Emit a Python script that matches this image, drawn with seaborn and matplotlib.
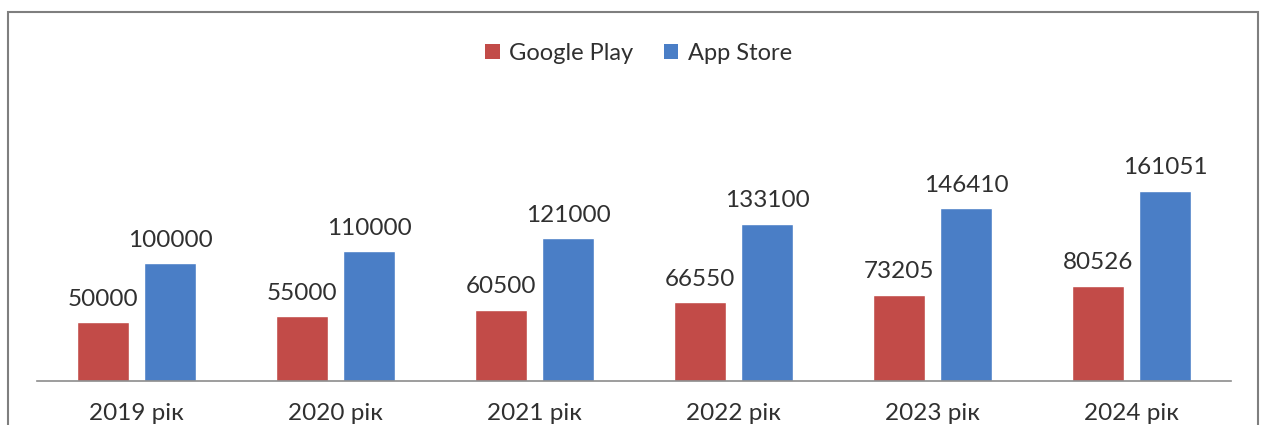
import matplotlib
matplotlib.use("Agg")
import matplotlib.pyplot as plt
import seaborn as sns
import pandas as pd
from matplotlib.patches import Rectangle, Patch

# ---- data ----
years = ["2019 рік", "2020 рік", "2021 рік", "2022 рік", "2023 рік", "2024 рік"]
series = ["Google Play", "App Store"]
google_play = [50000, 55000, 60500, 66550, 73205, 80526]
app_store = [100000, 110000, 121000, 133100, 146410, 161051]
colors = ["#C24B48", "#4A7EC6"]

df = pd.DataFrame({
    "year": years * 2,
    "store": [series[0]] * len(years) + [series[1]] * len(years),
    "value": google_play + app_store,
})

sns.set_style("white")
plt.rcParams["font.family"] = ["Lato", "DejaVu Sans"]
text_color = "#303030"

W, H = 1267, 425
fig = plt.figure(figsize=(W / 100, H / 100), dpi=100)
ax = fig.add_axes([37 / W, (H - 381) / H, (1231 - 37) / W, (381 - 40) / H])

sns.barplot(data=df, x="year", y="value", hue="store", hue_order=series,
            palette=colors, saturation=1, width=0.674, gap=0.226,
            ax=ax, legend=False, errorbar=None)

ax.set_ylim(0, 289000)
ax.set_xlim(-0.5, len(years) - 0.5)
ax.set_xlabel("")
ax.set_ylabel("")
ax.set_yticks([])
for s in ["top", "left", "right"]:
    ax.spines[s].set_visible(False)
ax.spines["bottom"].set_color("#8c8c8c")
ax.spines["bottom"].set_linewidth(1.2)
ax.tick_params(axis="x", length=0, pad=16, labelsize=17.5, colors=text_color)
ax.set_facecolor("none")

vals = [google_play, app_store]
for cont, v in zip(ax.containers, vals):
    ax.bar_label(cont, labels=[str(x) for x in v], padding=9,
                 fontsize=17.5, color=text_color)

handles = [Patch(facecolor=c, edgecolor="none") for c in colors]
fig.legend(handles, series, loc="center", bbox_to_anchor=(0.504, 1 - 53 / H),
           ncol=2, frameon=False, fontsize=17, handlelength=0.6,
           handleheight=0.6, handletextpad=0.4, columnspacing=1.3,
           labelcolor=text_color)

fig.patches.append(Rectangle((8 / W, -0.05), (1258 - 8) / W, (H - 12) / H + 0.05,
                             transform=fig.transFigure, fill=False,
                             edgecolor="#7f7f7f", linewidth=1.5))

fig.savefig("out.png", dpi=100, facecolor="white")
